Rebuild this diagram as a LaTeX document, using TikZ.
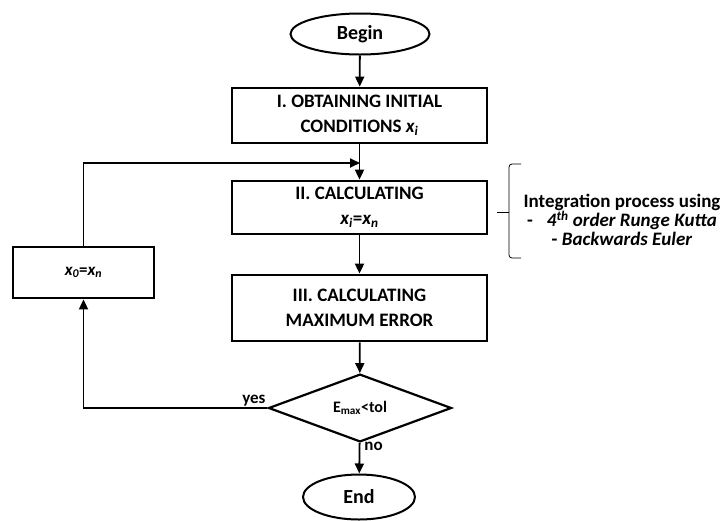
\documentclass[tikz,border=0pt]{standalone}
\usepackage{fontspec}
\setmainfont{Carlito}
\usetikzlibrary{arrows.meta,positioning,shapes.geometric}
\newcommand{\xsub}[2]{\textit{#1\textsubscript{#2}}}

\begin{document}
\begin{tikzpicture}[
  x=1pt,y=-1pt,
  every node/.style={font=\fontsize{19}{25}\selectfont\bfseries},
  term/.style={draw,ellipse,line width=2pt,minimum width=139pt,minimum height=41pt,inner sep=0pt,font=\fontsize{20}{24}\selectfont\bfseries},
  proc/.style={draw,rectangle,line width=2.8pt,minimum width=255pt,align=center,inner sep=0pt},
  test/.style={draw,diamond,line width=2.2pt,minimum width=183pt,minimum height=46pt,inner sep=0pt,font=\fontsize{16}{18}\selectfont\bfseries},
  arr/.style={-{Triangle[length=10pt,width=9pt]},line width=1.8pt},
  lbl/.style={font=\fontsize{17}{17}\selectfont\bfseries,inner sep=1pt}
]
  \useasboundingbox (0,0) rectangle (725,520);
  % Main column
  \node[term] (begin) at (360,34) {Begin};
  \node[proc,minimum height=55pt] (init) at (359.5,115.5) {I. OBTAINING INITIAL\\CONDITIONS \xsub{x}{i}};
  \node[proc,minimum height=53pt] (calc) at (359.5,207.5) {II. CALCULATING\\\xsub{x}{i}=\xsub{x}{n}};
  \node[proc,minimum height=66pt] (maxerr) at (359.5,308) {III. CALCULATING\\MAXIMUM ERROR};
  \node[test] (check) at (360,408) {E\textsubscript{max}<tol};
  \node[term,minimum width=112pt,minimum height=45pt] (end) at (359,497) {End};
  % Restart branch
  \node[proc,minimum width=141pt,minimum height=51pt,font=\fontsize{17}{20}\selectfont\bfseries] (reset) at (83.5,272.5) {\xsub{x}{0}=\xsub{x}{n}};
  \coordinate (join) at (360,163);
  % Integration note with its bracket
  \node[font=\fontsize{19}{19}\selectfont\bfseries,align=center] (note) at (622,220) {Integration process using\\-\hspace{14pt}\textit{4\textsuperscript{th} order Runge Kutta}\\- \textit{Backwards Euler}};
  \draw[line width=0.8pt,rounded corners=3pt] (521,164) -| (509,258) -- (521,258);
  \draw[line width=0.8pt] (497,212) -- (509,212);
  % Arrows
  \draw[arr] (begin) -- (init);
  \draw[arr] (init) -- (calc);
  \draw[arr] (calc) -- (maxerr);
  \draw[arr] (maxerr) -- (check);
  \draw[arr] (check) -- node[lbl,right,pos=0.12,xshift=3pt] {no} (end);
  \draw[arr] (check.west) -| node[lbl,above left,pos=0] {yes} (reset.south);
  \draw[arr] (reset.north) |- (join);
\end{tikzpicture}
\end{document}
